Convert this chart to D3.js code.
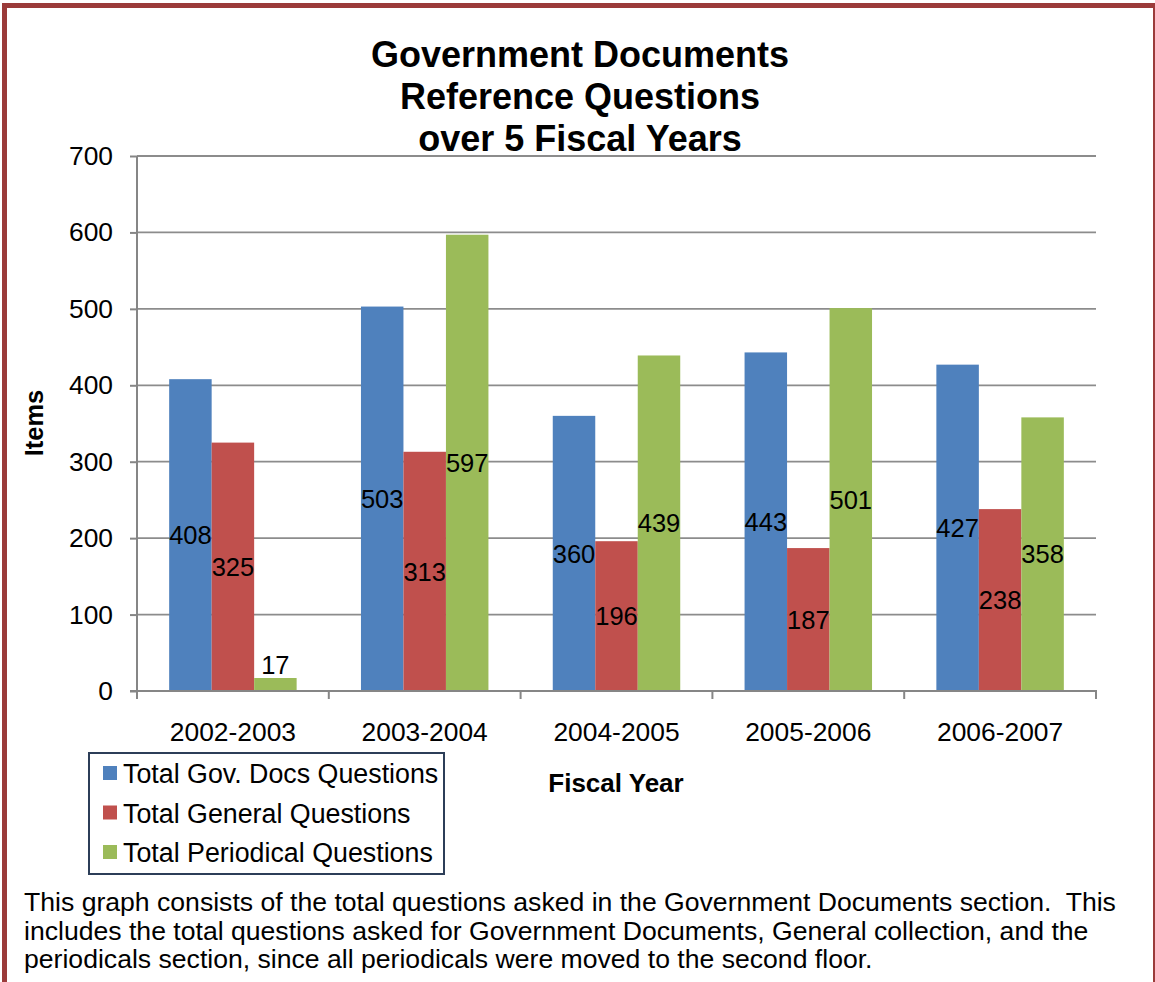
<!DOCTYPE html>
<html>
<head>
<meta charset="utf-8">
<script src="https://cdn.jsdelivr.net/npm/d3@7"></script>
<style>
  html, body { margin: 0; padding: 0; background: #fff; }
  svg { display: block; font-family: "Liberation Sans", Arial, Helvetica, sans-serif; }
</style>
</head>
<body>
<svg id="chart" width="1155" height="982"></svg>
<script>
// Fiscal years on the x axis
const categories = ["2002-2003", "2003-2004", "2004-2005", "2005-2006", "2006-2007"];

// Series names, as shown in the legend
const seriesNames = ["Total Gov. Docs Questions", "Total General Questions", "Total Periodical Questions"];

// Question counts per fiscal year, one array per series
const govDocs    = [408, 503, 360, 443, 427];
const general    = [325, 313, 196, 187, 238];
const periodical = [17, 597, 439, 501, 358];

// Y-axis ticks
const yTicks = [0, 100, 200, 300, 400, 500, 600, 700];

const titleLines = ["Government Documents", "Reference Questions", "over 5 Fiscal Years"];
const captionLines = [
  "This graph consists of the total questions asked in the Government Documents section.\u00a0 This",
  "includes the total questions asked for Government Documents, General collection, and the",
  "periodicals section, since all periodicals were moved to the second floor."
];

const seriesValues = [govDocs, general, periodical];
const colors = ["#4F81BD", "#C0504D", "#9BBB59"];

const svg = d3.select("#chart");
const plot = { left: 137, right: 1096, top: 156, bottom: 691 };

// Page border
svg.append("rect")
  .attr("x", 4.5).attr("y", 5.5)
  .attr("width", 1151).attr("height", 1100)
  .attr("fill", "none")
  .attr("stroke", "#9b3b3a")
  .attr("stroke-width", 5);

// Scales
const y = d3.scaleLinear().domain([0, 700]).range([plot.bottom, plot.top]);
const x0 = d3.scaleBand().domain(categories).range([plot.left, plot.right]).padding(0);
const x1 = d3.scaleBand().domain(d3.range(seriesNames.length))
  .range([0, x0.bandwidth()]).paddingInner(0).paddingOuter(0.757);

// Gridlines
svg.append("g")
  .selectAll("line")
  .data(yTicks.filter(d => d > 0))
  .join("line")
  .attr("x1", plot.left).attr("x2", plot.right)
  .attr("y1", d => y(d)).attr("y2", d => y(d))
  .attr("stroke", "#8c8c8c")
  .attr("stroke-width", 1.8);

// Bars
const rows = categories.map((c, i) => ({ cat: c, vals: seriesValues.map(s => s[i]) }));
const groups = svg.append("g").selectAll("g")
  .data(rows)
  .join("g")
  .attr("transform", d => `translate(${x0(d.cat)},0)`);

groups.selectAll("rect")
  .data(d => d.vals.map((v, k) => ({ v, k })))
  .join("rect")
  .attr("x", d => x1(d.k))
  .attr("width", x1.bandwidth())
  .attr("y", d => y(d.v))
  .attr("height", d => y(0) - y(d.v))
  .attr("fill", d => colors[d.k]);

// Value labels: centred in the bar, above it when the bar is too short
groups.selectAll("text")
  .data(d => d.vals.map((v, k) => ({ v, k })))
  .join("text")
  .attr("x", d => x1(d.k) + x1.bandwidth() / 2)
  .attr("y", d => {
    const h = y(0) - y(d.v);
    return h < 28 ? y(d.v) - 13 : (y(d.v) + y(0)) / 2;
  })
  .attr("dy", "0.36em")
  .attr("text-anchor", "middle")
  .attr("font-size", 25.5)
  .attr("fill", "#000")
  .text(d => d.v);

// Y axis
const yAxis = d3.axisLeft(y).tickValues(yTicks).tickSize(7).tickPadding(17);
const gy = svg.append("g").attr("transform", `translate(${plot.left},0)`).call(yAxis);
gy.select(".domain").attr("stroke", "#868686").attr("stroke-width", 2).attr("d", `M0,${plot.top}V${plot.bottom}`);
gy.selectAll(".tick line").attr("stroke", "#868686").attr("stroke-width", 2);
gy.selectAll(".tick text").attr("font-size", 26.4).attr("fill", "#000")
  .attr("font-family", "'Liberation Sans', Arial, sans-serif");

// X axis: tick marks on category boundaries, labels at category centres
const gx = svg.append("g");
gx.append("line")
  .attr("x1", plot.left - 7).attr("x2", plot.right + 1)
  .attr("y1", plot.bottom).attr("y2", plot.bottom)
  .attr("stroke", "#868686").attr("stroke-width", 2);
const bounds = categories.map(c => x0(c)).concat([x0(categories[categories.length - 1]) + x0.bandwidth()]);
gx.selectAll("line.b")
  .data(bounds)
  .join("line")
  .attr("class", "b")
  .attr("x1", d => d).attr("x2", d => d)
  .attr("y1", plot.bottom).attr("y2", plot.bottom + 8)
  .attr("stroke", "#868686").attr("stroke-width", 2);
gx.selectAll("text")
  .data(categories)
  .join("text")
  .attr("x", d => x0(d) + x0.bandwidth() / 2)
  .attr("y", 741)
  .attr("text-anchor", "middle")
  .attr("font-size", 26.4)
  .text(d => d);

// Title
svg.append("text")
  .attr("text-anchor", "middle")
  .attr("font-weight", "bold")
  .attr("font-size", 36)
  .selectAll("tspan")
  .data(titleLines)
  .join("tspan")
  .attr("x", 580)
  .attr("y", (d, i) => 67 + i * 42)
  .text(d => d);

// Axis titles
svg.append("text")
  .attr("transform", "translate(43,423) rotate(-90)")
  .attr("text-anchor", "middle")
  .attr("font-weight", "bold")
  .attr("font-size", 25.5)
  .text("Items");

svg.append("text")
  .attr("x", 616).attr("y", 792)
  .attr("text-anchor", "middle")
  .attr("font-weight", "bold")
  .attr("font-size", 26)
  .text("Fiscal Year");

// Legend
const legend = svg.append("g");
legend.append("rect")
  .attr("x", 89).attr("y", 753)
  .attr("width", 355).attr("height", 121)
  .attr("fill", "#fff")
  .attr("stroke", "#2c3e58")
  .attr("stroke-width", 2);
const items = legend.selectAll("g")
  .data(seriesNames)
  .join("g")
  .attr("transform", (d, i) => `translate(0,${783 + i * 39.5})`);
items.append("rect")
  .attr("x", 103).attr("y", -17)
  .attr("width", 14).attr("height", 14)
  .attr("fill", (d, i) => colors[i]);
items.append("text")
  .attr("x", 123).attr("y", 0)
  .attr("font-size", 26.8)
  .text(d => d);

// Caption below the chart
svg.append("text")
  .attr("font-size", 26.6)
  .selectAll("tspan")
  .data(captionLines)
  .join("tspan")
  .attr("x", 24)
  .attr("y", (d, i) => 911 + i * 28.5)
  .text(d => d);
</script>
</body>
</html>
